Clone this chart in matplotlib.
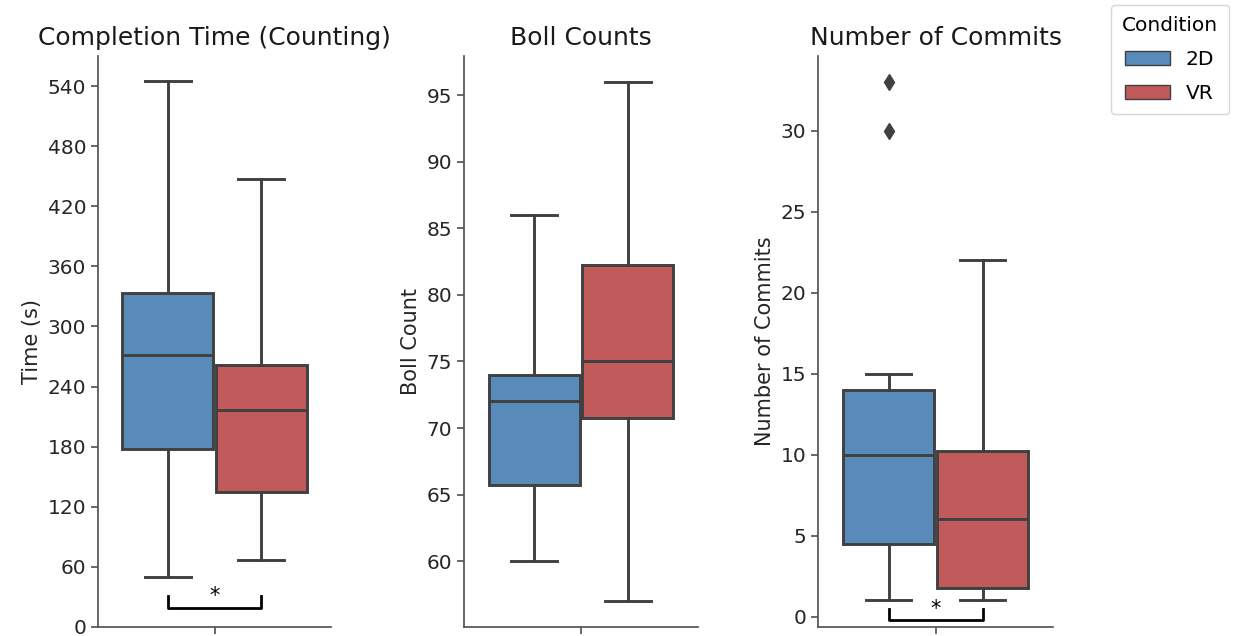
import matplotlib.pyplot as plt
from matplotlib.patches import Patch

conditions = ["2D", "VR"]
colors = ["#588bb9", "#c05a5b"]

# five-number summaries: low whisker, q1, median, q3, high whisker
time_2d = [50, 178, 272, 333, 545]
time_vr = [67, 135, 217, 262, 447]
boll_2d = [60, 65.75, 72, 74, 86]
boll_vr = [57, 70.75, 75, 82.25, 96]
commits_2d = [1, 4.5, 10, 14, 15]
commits_vr = [1, 1.75, 6, 10.25, 22]
commits_2d_outliers = [30, 33]

titles = ["Completion Time (Counting)", "Boll Counts", "Number of Commits"]
ylabels = ["Time (s)", "Boll Count", "Number of Commits"]
yticks = [range(0, 541, 60), range(60, 96, 5), range(0, 31, 5)]
ylims = [(0, 570), (55.05, 97.95), (-0.64, 34.6)]

# significance brackets (bar height, tip height), None = no bracket
brackets = [(18.5, 12.5), None, (-0.2, 0.68)]

gray = "#404040"


def summary(v, fliers=()):
    return dict(whislo=v[0], q1=v[1], med=v[2], q3=v[3], whishi=v[4], fliers=list(fliers))


stats = [
    [summary(time_2d), summary(time_vr)],
    [summary(boll_2d), summary(boll_vr)],
    [summary(commits_2d, commits_2d_outliers), summary(commits_vr)],
]

fig = plt.figure(figsize=(12.35, 6.36), dpi=100)
lefts = [98, 464, 818]
widths = [233, 234, 235]
axes = [fig.add_axes([l / 1235, 9 / 636, w / 1235, 571 / 636]) for l, w in zip(lefts, widths)]

line = dict(color=gray, linewidth=2.1)
for i, ax in enumerate(axes):
    bp = ax.bxp(stats[i], positions=[-0.2, 0.2], widths=0.39, patch_artist=True,
                boxprops=dict(edgecolor=gray, linewidth=2.1),
                whiskerprops=line, capprops=line, medianprops=line,
                flierprops=dict(marker="d", markerfacecolor=gray, markeredgecolor=gray,
                                markersize=8.5, linestyle="none"))
    for patch, c in zip(bp["boxes"], colors):
        patch.set_facecolor(c)

    ax.set_xlim(-0.5, 0.5)
    ax.set_xticks([0])
    ax.set_xticklabels([""])
    ax.set_ylim(*ylims[i])
    ax.set_yticks(list(yticks[i]))
    ax.set_title(titles[i], fontsize=18, color="#1a1a1a", pad=8)
    ax.set_ylabel(ylabels[i], fontsize=15, color="#262626")
    ax.tick_params(labelsize=14.5, colors="#262626", length=5, width=1.25)
    for s in ["top", "right"]:
        ax.spines[s].set_visible(False)
    for s in ["left", "bottom"]:
        ax.spines[s].set_color("#555555")
        ax.spines[s].set_linewidth(1.25)
    ax.tick_params(color="#555555")

    if brackets[i] is not None:
        y, h = brackets[i]
        ax.plot([-0.2, -0.2, 0.2, 0.2], [y + h, y, y, y + h], color="black", linewidth=2)
        ax.text(0, y + h, "*", ha="center", va="center", fontsize=15, color="black")

handles = [Patch(facecolor=c, edgecolor=gray, linewidth=1) for c in colors]
fig.legend(handles, conditions, title="Condition", loc="upper right",
           bbox_to_anchor=(1229 / 1235, 1 - 5 / 636), borderaxespad=0,
           fontsize=14.5, title_fontsize=14.5, handlelength=2.2,
           labelspacing=0.75, borderpad=0.55,
           frameon=True, edgecolor="#cccccc")

fig.savefig("out.png", dpi=100)
